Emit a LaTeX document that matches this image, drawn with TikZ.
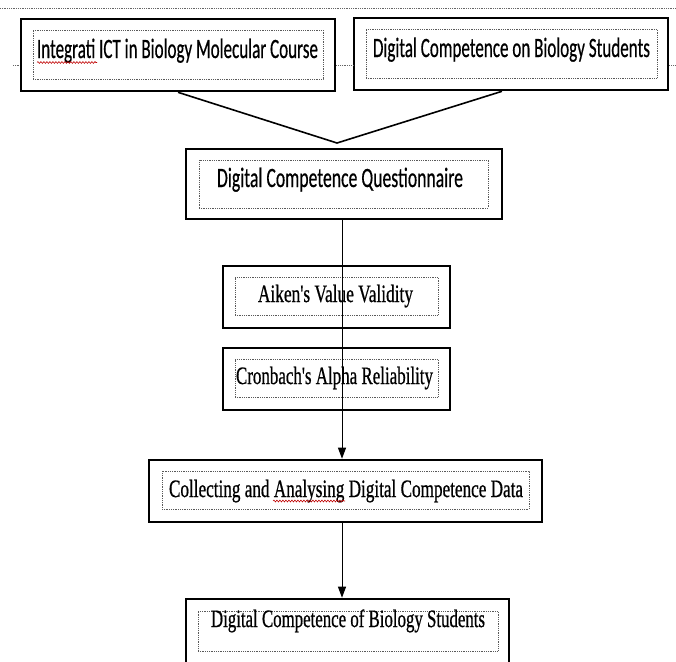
\documentclass[tikz,border=0pt]{standalone}
\usepackage{fontspec}
\usepackage{graphicx}
\usetikzlibrary{arrows.meta,decorations.pathmorphing}
\newfontfamily\sansf[FakeBold=0.6]{Carlito}
\newfontfamily\seriff[FakeBold=0.8]{Liberation Serif}
\newcommand\sanstxt[2]{\resizebox{#1}{\height}{\sansf\fontsize{28}{32}\selectfont #2}}
\newcommand\seriftxt[2]{\resizebox{#1}{\height}{\seriff\fontsize{25}{30}\selectfont #2}}
\tikzset{
  outerbox/.style={draw=black, line width=2.6pt, inner sep=0pt, fill=white},
  innerbox/.style={draw=black!65, densely dotted, line width=0.8pt, inner sep=0pt},
  txt/.style={anchor=base, inner sep=0pt, text=black},
  conn/.style={draw=black, line width=1pt},
  vline/.style={draw=black, line width=1.6pt},
  arr/.style={-{Triangle[length=11pt,width=8pt]}},
  guide/.style={draw=black!60, densely dotted, line width=0.8pt},
  squiggle/.style={draw=red!75!black, line width=0.6pt, decorate,
    decoration={snake, amplitude=0.9pt, segment length=3pt}}
}
\begin{document}
\begin{tikzpicture}[x=1pt,y=-1pt]
\useasboundingbox (0,0) rectangle (676,661);
\clip (0,0) rectangle (676,661);
% guide dotted lines
\coordinate (g0) at (0,8);
\coordinate (g1) at (676,8);
\draw[guide] (g0) -- (g1);
\coordinate (m0) at (13,65);
\coordinate (m3) at (676,65);
% boxes
\node[outerbox, minimum width=314pt, minimum height=72pt] (b1) at (178,55) {};
\node[outerbox, minimum width=314pt, minimum height=72pt] (b2) at (511,54) {};
\draw[guide] (m0) -- (b1.west |- m0);
\draw[guide] (b1.east |- m0) -- (b2.west |- m0);
\draw[guide] (b2.east |- m0) -- (m3);
\node[innerbox, minimum width=290pt, minimum height=49pt] (i1) at (178,54.5) {};
\node[innerbox, minimum width=291pt, minimum height=49pt] (i2) at (511.5,53.5) {};
\node[txt] (t1) at (177.5,58) {\sanstxt{281pt}{Integrati ICT in Biology Molecular Course}};
\node[txt] (t2) at (511.5,57) {\sanstxt{277pt}{Digital Competence on Biology Students}};

\node[outerbox, minimum width=316pt, minimum height=70pt] (b3) at (344,184) {};
\node[innerbox, minimum width=289pt, minimum height=48pt] (i3) at (343.5,184) {};
\node[txt] (t3) at (340,187) {\sanstxt{246pt}{Digital Competence Questionnaire}};

\node[outerbox, minimum width=227pt, minimum height=62pt] (b4) at (336.5,297) {};
\node[innerbox, minimum width=203pt, minimum height=38pt] (i4) at (336.5,296) {};
\node[txt] (t4) at (335.5,302) {\seriftxt{155pt}{Aiken's Value Validity}};

\node[outerbox, minimum width=227pt, minimum height=62pt] (b5) at (336.5,379) {};
\node[innerbox, minimum width=203pt, minimum height=38pt] (i5) at (336.5,378) {};
\node[txt] (t5) at (334.5,384) {\seriftxt{197pt}{Cronbach's Alpha Reliability}};

\node[outerbox, minimum width=393pt, minimum height=62pt] (b6) at (345.5,491) {};
\node[innerbox, minimum width=367pt, minimum height=38pt] (i6) at (345.5,490) {};
\node[txt] (t6) at (346,497) {\seriftxt{354pt}{Collecting and Analysing Digital Competence Data}};

\node[outerbox, minimum width=323pt, minimum height=65pt] (b7) at (347.5,631.5) {};
\node[innerbox, minimum width=300pt, minimum height=40pt] (i7) at (348,631) {};
\node[txt] (t7) at (348,627) {\seriftxt{274pt}{Digital Competence of Biology Students}};

% spelling marks
\coordinate (s1a) at (37,62.5);
\coordinate (s1b) at (97,62.5);
\draw[squiggle] (s1a) -- (s1b);
\coordinate (s2a) at (273,501);
\coordinate (s2b) at (345,501);
\draw[squiggle] (s2a) -- (s2b);

% connectors
\coordinate (apex) at (337,143);
\coordinate (xl) at (342,0);
\draw[vline] (b1.south -| t1) ++(0.5,0) -- (apex) -- (b2.south -| 502,0);
\draw[conn, arr] (b3.south -| xl) -- (b6.north -| xl);
\draw[conn, arr] (b6.south -| xl) -- (b7.north -| xl);
\end{tikzpicture}
\end{document}
